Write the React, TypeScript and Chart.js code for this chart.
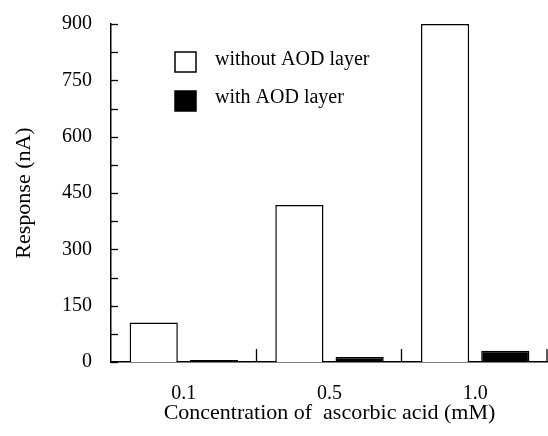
import React, { useEffect, useRef } from "react";
import { Chart, registerables } from "chart.js";

Chart.register(...registerables);

const categories = ["0.1", "0.5", "1.0"];
const withoutAOD = [105, 418, 900];
const withAOD = [5, 13, 30];
const yTickValues = [0, 150, 300, 450, 600, 750, 900];
const seriesLabels = ["without AOD layer", "with AOD layer"];
const xTitle = "Concentration of  ascorbic acid (mM)";
const yTitle = "Response (nA)";

const FONT = "'Liberation Serif', 'Times New Roman', serif";

const innerTicks = {
  id: "innerTicks",
  afterDraw(chart: any) {
    const { ctx, chartArea } = chart;
    const y = chart.scales.y;
    const x = chart.scales.x;
    ctx.save();
    ctx.strokeStyle = "#000";
    ctx.lineWidth = 1.3;
    // y ticks (major + minor), inward
    y.ticks.forEach((t: any, i: number) => {
      const py = Math.round(y.getPixelForTick(i)) + 0.5;
      ctx.beginPath();
      ctx.moveTo(chartArea.left, py);
      ctx.lineTo(chartArea.left + 7, py);
      ctx.stroke();
    });
    // x category separators, inward
    for (let i = 0; i < categories.length; i++) {
      const px = Math.min(Math.round(x.getPixelForValue(i + 0.5)) - 0.5, chartArea.right - 1);
      ctx.beginPath();
      ctx.moveTo(px, chartArea.bottom);
      ctx.lineTo(px, chartArea.bottom - 13);
      ctx.stroke();
    }
    // legend
    const ds = chart.data.datasets;
    const lx = chartArea.left + 64;
    const boxTops = [chartArea.top + 28, chartArea.top + 67];
    const baselines = [chartArea.top + 41, chartArea.top + 79];
    ctx.font = "20px " + FONT;
    ctx.textBaseline = "alphabetic";
    ctx.textAlign = "left";
    ds.forEach((d: any, i: number) => {
      ctx.fillStyle = d.backgroundColor;
      ctx.fillRect(lx, boxTops[i], 21, 20);
      ctx.lineWidth = 1.5;
      ctx.strokeStyle = "#000";
      ctx.strokeRect(lx, boxTops[i], 21, 20);
      ctx.fillStyle = "#000";
      ctx.fillText(d.label, lx + 40, baselines[i]);
    });
    ctx.restore();
  },
};

export default function App() {
  const ref = useRef<HTMLCanvasElement>(null);
  useEffect(() => {
    if (!ref.current) return;
    const chart = new Chart(ref.current, {
      type: "bar",
      data: {
        labels: categories,
        datasets: [
          {
            label: seriesLabels[0],
            data: withoutAOD,
            backgroundColor: "#ffffff",
            borderColor: "#000000",
            borderWidth: 1.5,
            borderSkipped: "bottom",
            categoryPercentage: 0.827,
            barPercentage: 0.8,
          },
          {
            label: seriesLabels[1],
            data: withAOD,
            backgroundColor: "#000000",
            borderColor: "#000000",
            borderWidth: 1.5,
            borderSkipped: "bottom",
            categoryPercentage: 0.827,
            barPercentage: 0.8,
          },
        ],
      },
      options: {
        responsive: false,
        animation: false,
        layout: { padding: { top: 24, right: 0, left: 0, bottom: 0 } },
        plugins: {
          legend: { display: false },
          tooltip: { enabled: false },
          title: { display: false },
        },
        scales: {
          x: {
            grid: { display: false, drawTicks: false },
            border: { display: true, color: "#000", width: 1.5 },
            ticks: {
              color: "#000",
              font: { family: FONT, size: 20 },
              padding: 20,
              maxRotation: 0,
            },
            title: {
              display: true,
              text: xTitle,
              color: "#000",
              font: { family: FONT, size: 22 },
              padding: { top: 0, bottom: 10 },
            },
            afterFit(scale: any) {
              scale.height = 74;
              scale.paddingLeft = 0;
              scale.paddingRight = 0;
            },
          },
          y: {
            min: 0,
            max: 900,
            grid: { display: false, drawTicks: false },
            border: { display: true, color: "#000", width: 1.5 },
            afterBuildTicks(scale: any) {
              const t: any[] = [];
              for (let v = 0; v <= 900; v += 75) t.push({ value: v });
              scale.ticks = t;
            },
            ticks: {
              color: "#000",
              autoSkip: false,
              font: { family: FONT, size: 20 },
              padding: 19,
              callback: (v: any) => (yTickValues.includes(Number(v)) ? String(v) : ""),
            },
            title: {
              display: true,
              text: yTitle,
              color: "#000",
              font: { family: FONT, size: 22 },
              padding: { top: 11, bottom: 0 },
            },
            afterFit(scale: any) {
              scale.width = 111;
              scale.paddingTop = 0;
              scale.paddingBottom = 0;
            },
          },
        },
      },
      plugins: [innerTicks],
    });
    return () => chart.destroy();
  }, []);
  return (
    <div style={{ position: "fixed", left: 0, top: 0, width: 548, height: 436, background: "#fff" }}>
      <canvas ref={ref} width={548} height={436} />
    </div>
  );
}
